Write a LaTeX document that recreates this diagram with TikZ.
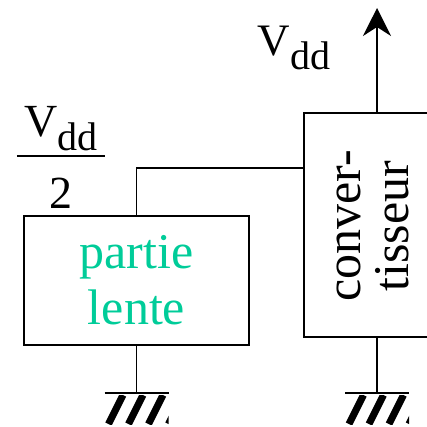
\documentclass[tikz,border=0pt]{standalone}
\usepackage{fontspec}
\setmainfont{Liberation Serif}
\usetikzlibrary{arrows.meta}
\definecolor{vertlent}{RGB}{0,204,153}
\newcommand{\Vdd}{V\raisebox{-0.3em}{\fontsize{40}{40}\selectfont dd}}

\begin{document}
\begin{tikzpicture}[x=1pt, y=-1pt, line width=1.6pt, >={Stealth[length=28pt,width=28pt,inset=9pt]},
  bloc/.style={draw, inner sep=0pt},
  grand/.style={font=\fontsize{50}{56}\selectfont, align=center, inner sep=0pt}]
\clip (0,0) rectangle (427,426);

\node[bloc, minimum width=225pt, minimum height=129pt] (lente) at (136.5,280.5) {};
\node[grand, text=vertlent] (lentetxt) at (lente.center) {partie\\lente};
\node[bloc, minimum width=146pt, minimum height=224pt] (conv) at (377,225) {};
\node[grand, font=\fontsize{50}{48}\selectfont, rotate=90] (convtxt) at (373,226) {conver-\\tisseur};

% alimentation
\coordinate (alim) at (377,8);
\draw[->] (conv.north) -- (alim);
\node[font=\fontsize{45}{45}\selectfont, inner sep=0pt] (vdd) at (294,48) {\Vdd};

% demi-tension
\node[font=\fontsize{46}{46}\selectfont, inner sep=0pt] (demi) at (61,163.4)
  {\setlength{\arrayrulewidth}{1.6pt}\begin{tabular}{@{\hspace{7.5pt}}c@{\hspace{7.5pt}}}\Vdd\rule[-19pt]{0pt}{0pt}\\\hline \rule{0pt}{52pt}2\end{tabular}};
\draw (lente.north) |- (conv.west |- 0,168);

% masses
\foreach \b in {lente, conv}
{
    \draw (\b.south) -- (\b.south |- 0,393) coordinate (m) ++(-32,0) -- ++(64,0);
    \begin{scope}
        \clip (m) ++(-32,2) rectangle ++(64,29);
        \foreach \d in {-28,-8,12,32}
            \draw[line width=7pt] (m) ++(\d,31) -- ++(14.5,-29);
    \end{scope}
}
\end{tikzpicture}
\end{document}
